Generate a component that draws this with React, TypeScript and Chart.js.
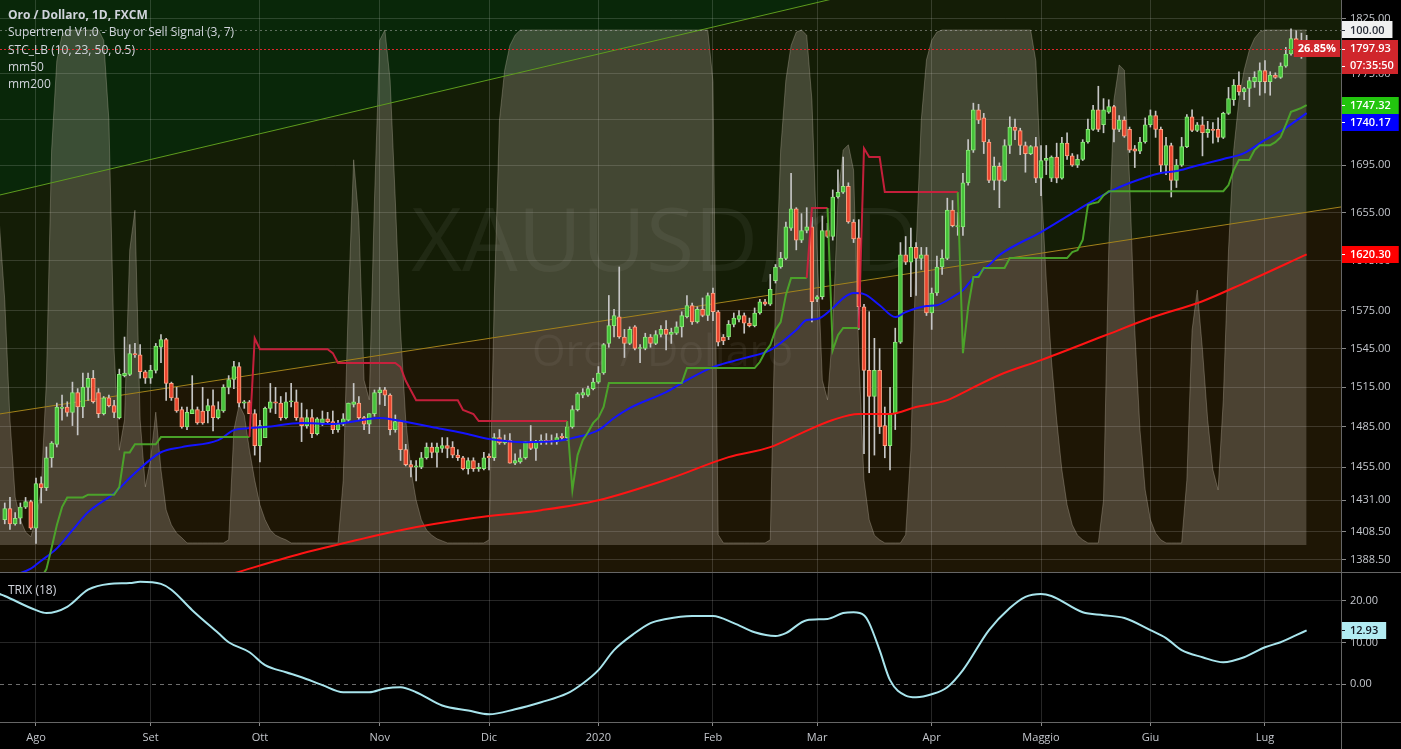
import React, { useEffect, useRef } from "react";
import { Chart, registerables } from "chart.js";

Chart.register(...registerables);

// ---------------- DATA ----------------
// Daily OHLC (open, high, low, close), one row per trading day, index 0 = 24 Jul 2019
const ohlc: number[][] = [
  [1417,1429,1414,1425],[1425,1433,1410,1414],[1414,1422,1413,1418],[1418,1429,1414,1426],[1426,1433,1425,1430],
  [1430,1431,1410,1411],[1411,1447,1400,1443],[1443,1448,1429,1440],[1440,1470,1438,1462],[1462,1474,1455,1473],
  [1472,1503,1470,1500],[1499,1509,1490,1500],[1500,1504,1493,1496],[1496,1519,1486,1511],[1511,1514,1479,1500],
  [1500,1526,1492,1515],[1515,1526,1505,1522],[1522,1528,1503,1504],[1511,1514,1492,1495],[1495,1508,1494,1507],
  [1507,1509,1500,1501],[1501,1505,1492,1496],[1492,1529,1491,1525],[1524,1554,1523,1526],[1525,1548,1524,1541],
  [1541,1549,1538,1540],[1540,1548,1522,1527],[1527,1528,1518,1522],[1522,1532,1518,1528],[1528,1549,1526,1547],
  [1546,1556,1534,1552],[1552,1553,1505,1518],[1518,1519,1505,1507],[1507,1515,1496,1497],[1498,1500,1484,1485],
  [1485,1500,1483,1496],[1495,1524,1495,1498],[1498,1500,1487,1488],[1497,1515,1487,1488],[1497,1506,1488,1501],
  [1501,1513,1482,1492],[1492,1504,1491,1498],[1497,1517,1496,1515],[1515,1524,1510,1521],[1521,1535,1514,1531],
  [1531,1534,1500,1503],[1503,1505,1499,1504],[1504,1505,1495,1495],[1495,1498,1464,1471],[1471,1490,1459,1486],
  [1477,1500,1477,1499],[1499,1518,1496,1504],[1504,1515,1495,1503],[1503,1508,1490,1492],[1492,1511,1491,1504],
  [1504,1518,1500,1504],[1504,1513,1490,1492],[1492,1503,1474,1486],[1486,1498,1484,1492],[1492,1498,1477,1480],
  [1480,1492,1479,1491],[1488,1497,1486,1491],[1491,1496,1488,1489],[1489,1497,1480,1483],[1483,1490,1481,1487],
  [1487,1495,1486,1491],[1490,1503,1489,1503],[1502,1518,1500,1504],[1503,1508,1490,1492],[1492,1493,1483,1487],
  [1487,1495,1480,1495],[1495,1513,1493,1511],[1511,1515,1502,1513],[1513,1515,1501,1509],[1509,1510,1479,1483],
  [1483,1494,1481,1489],[1489,1490,1460,1468],[1468,1472,1456,1457],[1457,1460,1448,1455],[1455,1460,1445,1456],
  [1455,1466,1454,1462],[1462,1473,1461,1470],[1470,1473,1462,1466],[1466,1473,1455,1470],[1469,1477,1466,1471],
  [1471,1477,1462,1469],[1470,1474,1462,1464],[1464,1468,1460,1462],[1462,1463,1453,1454],[1454,1462,1450,1460],
  [1460,1462,1452,1454],[1454,1458,1452,1455],[1454,1466,1453,1462],[1463,1465,1453,1462],[1462,1480,1460,1477],
  [1477,1483,1472,1473],[1473,1479,1472,1475],[1475,1480,1458,1458],[1458,1465,1457,1460],[1459,1468,1458,1462],
  [1462,1474,1461,1474],[1474,1486,1468,1469],[1469,1475,1460,1474],[1474,1479,1472,1475],[1475,1480,1472,1474],
  [1475,1479,1472,1474],[1474,1480,1472,1477],[1478,1480,1475,1477],[1477,1489,1475,1485],[1485,1501,1484,1498],
  [1498,1511,1497,1510],[1509,1514,1507,1511],[1509,1516,1508,1514],[1514,1522,1513,1519],[1519,1531,1518,1526],
  [1526,1549,1525,1548],[1549,1587,1546,1563],[1563,1576,1554,1571],[1570,1610,1553,1554],[1554,1560,1538,1549],
  [1549,1562,1548,1560],[1562,1563,1544,1545],[1545,1548,1534,1545],[1545,1557,1544,1554],[1554,1556,1546,1549],
  [1549,1559,1548,1556],[1556,1563,1554,1560],[1560,1567,1544,1556],[1556,1561,1549,1558],[1557,1566,1556,1562],
  [1562,1574,1554,1571],[1570,1587,1569,1579],[1579,1581,1564,1566],[1566,1578,1565,1576],[1576,1585,1570,1571],
  [1571,1589,1567,1587],[1589,1593,1567,1574],[1574,1575,1547,1550],[1554,1556,1548,1551],[1554,1567,1552,1564],
  [1564,1573,1562,1569],[1568,1575,1566,1571],[1571,1573,1557,1565],[1565,1569,1562,1563],[1563,1577,1562,1573],
  [1573,1584,1572,1582],[1582,1584,1579,1580],[1580,1604,1579,1592],[1599,1612,1597,1610],[1610,1622,1609,1617],
  [1617,1647,1616,1643],[1642,1688,1640,1658],[1658,1659,1624,1632],[1632,1654,1630,1640],[1640,1659,1638,1643],
  [1643,1651,1566,1582],[1584,1587,1582,1586],[1586,1652,1584,1640],[1640,1646,1634,1635],[1635,1674,1632,1668],
  [1668,1691,1667,1672],[1672,1702,1671,1677],[1677,1680,1646,1647],[1647,1649,1630,1633],[1634,1649,1560,1578],
  [1578,1580,1465,1528],[1528,1574,1451,1508],[1508,1553,1464,1528],[1528,1545,1480,1485],[1486,1500,1462,1471],
  [1471,1515,1453,1495],[1495,1561,1483,1550],[1550,1630,1549,1620],[1620,1635,1612,1614],[1614,1642,1586,1626],
  [1626,1630,1587,1617],[1617,1626,1608,1620],[1620,1626,1571,1573],[1573,1593,1560,1589],[1589,1619,1587,1610],
  [1610,1624,1604,1617],[1617,1667,1616,1657],[1657,1665,1643,1644],[1643,1655,1636,1644],[1643,1688,1636,1680],
  [1680,1717,1678,1708],[1708,1749,1706,1743],[1743,1748,1731,1734],[1736,1740,1705,1715],[1715,1717,1680,1682],
  [1682,1702,1674,1694],[1694,1697,1659,1682],[1682,1717,1681,1712],[1712,1737,1705,1728],[1728,1735,1717,1725],
  [1725,1727,1704,1712],[1712,1715,1689,1705],[1705,1712,1704,1711],[1711,1719,1680,1684],[1684,1712,1669,1699],
  [1699,1712,1687,1701],[1684,1703,1681,1702],[1702,1714,1680,1684],[1684,1719,1683,1714],[1714,1723,1700,1703],
  [1703,1705,1694,1695],[1695,1704,1693,1700],[1700,1717,1699,1715],[1715,1735,1714,1726],[1726,1747,1725,1743],
  [1743,1764,1724,1726],[1730,1753,1723,1743],[1741,1752,1740,1746],[1746,1747,1715,1726],[1726,1738,1724,1734],
  [1734,1737,1719,1720],[1726,1728,1706,1708],[1709,1712,1693,1707],[1707,1719,1705,1715],[1715,1736,1714,1730],
  [1730,1743,1728,1738],[1738,1742,1719,1726],[1726,1728,1688,1695],[1695,1719,1687,1712],[1712,1714,1668,1682],
  [1682,1700,1676,1695],[1695,1719,1694,1711],[1711,1739,1710,1737],[1737,1743,1724,1725],[1725,1732,1724,1730],
  [1730,1737,1703,1723],[1723,1733,1719,1726],[1726,1732,1714,1725],[1726,1736,1715,1719],[1719,1741,1718,1740],
  [1740,1763,1739,1753],[1752,1770,1747,1765],[1765,1777,1756,1759],[1759,1763,1752,1762],[1762,1772,1746,1769],
  [1768,1777,1763,1772],[1768,1785,1756,1778],[1778,1787,1758,1768],[1768,1777,1756,1774],[1774,1776,1771,1772],
  [1772,1785,1771,1782],[1782,1799,1781,1793],[1793,1816,1792,1807],[1807,1814,1798,1801],[1801,1812,1789,1799],
  [1799,1810,1792,1797.93],
];

// STC_LB oscillator (0..100), one per bar, starting one bar before the first candle
const stcStartIdx = -1;
const stcValues: number[] = [
  62,
  47.6, 24.3, 9.3, 4.9, 2.5, 1.6, 4.9, 10.7, 32, 76.7,
  94, 99, 100, 100, 100, 100, 100, 100, 100, 98,
  82.5, 37.9, 18.4, 24.3, 57.3, 65, 24.3, 11.3, 16.5, 25.8,
  14.6, 6.8, 3.9, 2.3, 1.4, 0.4, 0.4, 0.4, 0.4, 0.4,
  0.4, 0.4, 0.4, 1, 22.3, 27.2, 25.2, 18.4, 12.6, 7.8,
  4.9, 2.9, 1.9, 1.4, 1, 0.4, 0.4, 0.4, 0.4, 0.4,
  0.4, 0.4, 0.4, 0.4, 0.4, 12.6, 47.6, 74.8, 63.1, 32,
  28.2, 67, 98, 100, 90.3, 67, 41.7, 24.3, 14.6, 8.7,
  4.9, 2.9, 1.9, 1.2, 0.8, 0.4, 0.4, 0.4, 0.4, 0.4,
  0.4, 0.4, 0.4, 1, 47.6, 82.5, 92.2, 97, 99, 100,
  100, 100, 100, 100, 100, 100, 100, 100, 100, 100,
  100, 100, 100, 100, 100, 100, 100, 100, 100, 100,
  100, 100, 100, 100, 100, 100, 100, 100, 100, 100,
  100, 100, 100, 100, 100, 100, 90, 2, 0.4, 0.4,
  0.4, 0.4, 0.4, 0.4, 0.4, 0.4, 0.4, 1, 47.6, 76.7,
  90.3, 97, 99.6, 100, 99, 86.4, 57.3, 32, 28.2, 41.7,
  67, 76.7, 77.7, 72.8, 36.9, 12.6, 4.9, 1.9, 1, 0.4,
  0.4, 0.4, 0.4, 2, 18.4, 57.3, 82.5, 94.2, 98, 99.6,
  100, 100, 100, 100, 100, 100, 100, 100, 100, 100,
  100, 100, 100, 100, 100, 100, 100, 100, 94, 70.9,
  51.5, 35.9, 24.3, 14.6, 7.8, 3.9, 1.9, 1, 0.4, 0.4,
  0.4, 8.7, 57.3, 86.4, 93.2, 92.2, 70.9, 41.7, 22.3, 10.7,
  4.9, 2.3, 1, 0.4, 0.4, 0.4, 0.4, 12.6, 41.7, 49.5,
  37.9, 24.3, 14.6, 10.7, 28.2, 57.3, 76.7, 86.4, 92.2, 96.1,
  98.4, 99.6, 100, 100, 100, 100, 100, 100, 100, 100,
  100,
];

// mm50 [barIndex, value]
const mm50Points: number[][] = [
  [2,1378],[5,1382.3],[7,1387.9],[10,1396.6],[13,1409.5],[16,1422.4],[21,1436.1],[25,1450.8],[30,1466.1],
  [34,1469.9],[41,1475.1],[44,1482.6],[47,1484.1],[50,1484.9],[57,1487.9],[63,1487.2],[72,1491.7],[75,1490.2],
  [82,1484.9],[88,1480.4],[93,1475.9],[100,1473.6],[106,1474.4],[109,1476.6],[114,1482.6],[117,1491.7],
  [120,1499.2],[127,1511.4],[131,1520.6],[136,1530.6],[142,1537.5],[147,1543.7],[152,1559.5],[154,1567.4],
  [156,1568.2],[159,1576.9],[161,1584.8],[163,1588.9],[165,1588.1],[168,1579.2],[171,1569.8],[173,1573.7],
  [177,1578.5],[179,1579.2],[182,1585.7],[184,1591.3],[186,1601.1],[189,1611.6],[191,1619.7],[199,1638.7],
  [206,1657],[212,1672.1],[216,1679.8],[222,1688.4],[225,1690],[228,1693.5],[234,1700.3],[238,1705.4],
  [242,1716.8],[246,1727.3],[250,1740.17],
];

// mm200 [barIndex, value]
const mm200Points: number[][] = [
  [43,1378],[57,1393],[65,1400.2],[76,1409.5],[90,1418.1],[103,1423.8],[114,1431],[128,1447.1],[139,1462.5],
  [147,1469.9],[153,1480.4],[159,1490.2],[164,1494.7],[170,1494.7],[175,1500],[181,1505.2],[185,1512.9],
  [191,1524.5],[199,1536],[211,1554.8],[220,1569],[230,1582.4],[238,1597],[250,1620.3],
];

// Supertrend [barIndex, value, direction (1 = up / buy, -1 = down / sell)]
const supertrendPoints: number[][] = [
  [7,1376,1],[8,1382,1],[9,1397,1],[10,1413,1],[11,1426,1],[12,1433,1],[15,1433,1],[16,1435,1],[21,1435,1],
  [22,1440.5,1],[23,1466,1],[24,1466,1],[25,1472,1],[29,1472,1],[30,1477.4,1],[47,1477.4,1],
  [48,1553,-1],[49,1544.5,-1],[62,1544.5,-1],[63,1541.4,-1],[64,1533.7,-1],[75,1533.7,-1],[76,1530.6,-1],
  [77,1520,-1],[79,1505.2,-1],[87,1505.2,-1],[88,1497.7,-1],[90,1494.7,-1],[91,1489.4,-1],[108,1489.4,-1],
  [109,1438.3,1],[110,1464,1],[111,1475,1],[112,1481,1],[113,1488,1],[114,1492,1],[115,1500,1],[116,1518.3,1],
  [130,1518.3,1],[131,1529.8,1],[144,1529.8,1],[145,1534.5,1],[146,1542.2,1],[147,1547.6,1],[148,1559.5,1],
  [149,1565.8,1],[150,1587.3,1],[151,1601.1,1],[154,1601.1,1],
  [155,1658.7,-1],[158,1658.7,-1],
  [159,1543.7,1],[160,1555.5,1],[161,1561.1,1],[164,1561.1,1],
  [165,1709.5,-1],[166,1702,-1],[168,1702,-1],[169,1672.1,-1],[183,1672.1,-1],
  [184,1541.4,1],[185,1577.7,1],[186,1601.9,1],[187,1601.9,1],[188,1609.2,1],[192,1609.2,1],[193,1617.3,1],
  [204,1617.3,1],[205,1622.2,1],[206,1623.8,1],[207,1632.1,1],[208,1661.1,1],[209,1662.8,1],[210,1663.6,1],
  [211,1669.3,1],[212,1672.9,1],[234,1672.9,1],[235,1678.1,1],[236,1690.9,1],[237,1699.5,1],[239,1699.5,1],
  [240,1708,1],[241,1712.2,1],[243,1712.2,1],[244,1714.8,1],[245,1719.1,1],[246,1729.9,1],[247,1741.3,1],
  [248,1743,1],[249,1744.8,1],[250,1747.32,1],
];

// TRIX (18) [barIndex, value]
const trixPoints: number[][] = [
  [-1,21.7],[0,21.2],[6,17.8],[8,17.1],[12,18.6],[16,22.7],[20,24.1],[24,24.3],[26,24.6],[30,24.1],[32,22.7],[36,17.8],
  [41,12.3],[43,10.1],[47,7.7],[50,4.6],[54,2.9],[57,1.7],[61,-0.2],[65,-1.9],[70,-1.9],[73,-1.0],[76,-0.7],
  [79,-1.9],[84,-5.1],[89,-6.3],[93,-7.2],[98,-6.0],[103,-4.3],[108,-2.2],[111,0.2],[114,3.4],[117,8.2],
  [121,12.3],[124,14.7],[127,15.7],[132,16.4],[136,16.4],[140,14.7],[144,12.5],[148,11.6],[150,12.3],
  [154,15.4],[158,15.7],[161,17.1],[163,17.3],[165,16.6],[166,14.7],[168,8.2],[170,1.0],[173,-2.7],
  [175,-3.1],[178,-2.4],[181,-0.7],[184,3.4],[189,13.0],[193,18.3],[196,21.0],[199,21.7],[201,21.2],
  [207,17.3],[211,16.6],[215,15.9],[220,13.0],[223,11.1],[226,8.2],[230,6.5],[234,5.3],[238,6.5],
  [242,8.9],[245,10.1],[248,11.8],[250,12.93],
];

// Channel drawings [barIndex, price]
const upperChannel: number[][] = [[-0.912, 1669.7], [256.6, 1958.6]];
const lowerChannel: number[][] = [[-0.912, 1494.8], [256.6, 1659.6]];

// Axis ticks
const monthTickIdx = [6, 28, 49, 72, 93, 114, 136, 156, 178, 199, 220, 242];
const monthTickLabels = ["Ago", "Set", "Ott", "Nov", "Dic", "2020", "Feb", "Mar", "Apr", "Maggio", "Giu", "Lug"];
const priceTicks = [1825, 1775, 1735, 1695, 1655, 1615, 1575, 1545, 1515, 1485, 1455, 1431, 1408.5, 1388.5];
const trixTicks = [20, 10, 0];

const legendLines = [
  "Oro / Dollaro, 1D, FXCM",
  "Supertrend V1.0 - Buy or Sell Signal (3, 7)",
  "STC_LB (10, 23, 50, 0.5)",
  "mm50",
  "mm200",
];
const changeText = "26.85%";
const countdownText = "07:35:50";

// ---------------- STYLE ----------------
const FONT = "'Open Sans', 'Liberation Sans', sans-serif";
const GRID = "rgba(255,255,255,0.15)";
const AXIS_TEXT = "#c3c6cc";
const BG_TOP = "#092709";
const BG_MID = "#141d06";
const BG_LOW = "#1e1605";
const X_MIN = -0.912;
const X_MAX = 256.6;
const PRICE_MIN = 1380.0;
const PRICE_MAX = 1842.6;
const STC_MIN = -5.243;
const STC_MAX = 105.825;
const TRIX_MIN = -9.05;
const TRIX_MAX = 26.72;
const AXIS_W = 60;

function drawBox(ctx: any, x: number, yc: number, text: string, bg: string, fg: string, bold = false, w?: number) {
  ctx.save();
  ctx.font = `${bold ? "bold " : "600 "}11px ${FONT}`;
  const tw = ctx.measureText(text).width;
  const bw = w || tw + 17;
  ctx.fillStyle = bg;
  ctx.fillRect(x, Math.round(yc - 8.5), bw, 17);
  ctx.strokeStyle = fg;
  ctx.lineWidth = 1;
  ctx.beginPath();
  ctx.moveTo(x, Math.round(yc) + 0.5);
  ctx.lineTo(x + 4, Math.round(yc) + 0.5);
  ctx.stroke();
  ctx.fillStyle = fg;
  ctx.textBaseline = "middle";
  ctx.textAlign = "left";
  ctx.fillText(text, x + 9, yc + 0.5);
  ctx.restore();
}

export default function App() {
  const mainRef = useRef<HTMLCanvasElement>(null);
  const trixRef = useRef<HTMLCanvasElement>(null);

  useEffect(() => {
    document.body.style.margin = "0";
    document.body.style.background = "#000";

    const up = ohlc.map((c) => c[3] >= c[0]);
    const last = ohlc[ohlc.length - 1];
    const lastStc = stcValues[stcValues.length - 1];

    const mainPlugin = {
      id: "mainDeco",
      beforeDraw(chart: any) {
        const { ctx, chartArea: a, scales } = chart;
        const px = (p: number[]) => [scales.x.getPixelForValue(p[0]), scales.y.getPixelForValue(p[1])];
        ctx.save();
        ctx.fillStyle = BG_MID;
        ctx.fillRect(a.left, a.top, a.width, a.height);
        ctx.beginPath();
        ctx.rect(a.left, a.top, a.width, a.height);
        ctx.clip();
        const u0 = px(upperChannel[0]);
        const u1 = px(upperChannel[1]);
        ctx.fillStyle = BG_TOP;
        ctx.beginPath();
        ctx.moveTo(u0[0], u0[1]);
        ctx.lineTo(u1[0], u1[1]);
        ctx.lineTo(u1[0], a.top - 5000);
        ctx.lineTo(u0[0], a.top - 5000);
        ctx.closePath();
        ctx.fill();
        const l0 = px(lowerChannel[0]);
        const l1 = px(lowerChannel[1]);
        ctx.fillStyle = BG_LOW;
        ctx.beginPath();
        ctx.moveTo(l0[0], l0[1]);
        ctx.lineTo(l1[0], l1[1]);
        ctx.lineTo(l1[0], a.bottom + 5000);
        ctx.lineTo(l0[0], a.bottom + 5000);
        ctx.closePath();
        ctx.fill();
        ctx.restore();
      },
      beforeDatasetsDraw(chart: any) {
        const { ctx, chartArea: a } = chart;
        const cx = (a.left + a.right) / 2;
        ctx.save();
        ctx.fillStyle = "rgba(255,255,255,0.055)";
        ctx.textAlign = "center";
        ctx.textBaseline = "alphabetic";
        ctx.font = `88px ${FONT}`;
        ctx.fillText("XAUUSD, 1D", cx - 6, 271);
        ctx.font = `43px ${FONT}`;
        ctx.fillText("Oro / Dollaro", cx - 8, 366);
        ctx.restore();
      },
      afterDatasetsDraw(chart: any) {
        const { ctx, chartArea: a, scales } = chart;
        ctx.save();
        const yc = Math.round(scales.y.getPixelForValue(last[3])) + 0.5;
        ctx.strokeStyle = "#e0262b";
        ctx.setLineDash([2, 2]);
        ctx.lineWidth = 1;
        ctx.beginPath();
        ctx.moveTo(a.left, yc);
        ctx.lineTo(a.right, yc);
        ctx.stroke();
        const ys = Math.round(scales.yStc.getPixelForValue(lastStc)) + 0.5;
        ctx.strokeStyle = "rgba(200,200,200,0.45)";
        ctx.setLineDash([2, 3]);
        ctx.beginPath();
        ctx.moveTo(a.left, ys);
        ctx.lineTo(a.right, ys);
        ctx.stroke();
        ctx.restore();
      },
      afterDraw(chart: any) {
        const { ctx, chartArea: a, scales } = chart;
        const stLast = supertrendPoints[supertrendPoints.length - 1][1];
        const m50Last = mm50Points[mm50Points.length - 1][1];
        const m200Last = mm200Points[mm200Points.length - 1][1];
        const labels: any[] = [
          { y: scales.yStc.getPixelForValue(lastStc), t: lastStc.toFixed(2), bg: "#f0f0f0", fg: "#2a2e39" },
          { y: scales.y.getPixelForValue(last[3]), t: last[3].toFixed(2), bg: "#d0262c", fg: "#ffffff", w: 57 },
          { y: scales.y.getPixelForValue(last[3]), t: countdownText, bg: "#d0262c", fg: "#ffffff", w: 57 },
          { y: scales.y.getPixelForValue(stLast), t: stLast.toFixed(2), bg: "#22c50e", fg: "#ffffff" },
          { y: scales.y.getPixelForValue(m50Last), t: m50Last.toFixed(2), bg: "#0000ff", fg: "#ffffff" },
          { y: scales.y.getPixelForValue(m200Last), t: m200Last.toFixed(2), bg: "#ff0000", fg: "#ffffff" },
        ];
        const sorted = labels.slice().sort((p, q) => p.y - q.y);
        for (let i = 1; i < sorted.length; i++) {
          if (sorted[i].y - sorted[i - 1].y < 17) sorted[i].y = sorted[i - 1].y + 17;
        }
        for (const l of labels) drawBox(ctx, a.right, l.y, l.t, l.bg, l.fg, false, l.w);
        // percent change tag inside the pane
        const yc = scales.y.getPixelForValue(last[3]);
        ctx.save();
        ctx.font = `bold 11px ${FONT}`;
        const tw = ctx.measureText(changeText).width;
        const bw = tw + 8;
        ctx.fillStyle = "#d0262c";
        ctx.fillRect(a.right - 1 - bw, Math.round(yc - 8.5), bw, 17);
        ctx.fillStyle = "#ffffff";
        ctx.textBaseline = "middle";
        ctx.textAlign = "left";
        ctx.fillText(changeText, a.right - 1 - bw + 4, yc + 0.5);
        ctx.restore();
      },
    };

    const mainChart = new Chart(mainRef.current as HTMLCanvasElement, {
      type: "bar",
      data: {
        datasets: [
          {
            type: "line",
            yAxisID: "yStc",
            data: stcValues.map((v, i) => ({ x: i + stcStartIdx, y: v })),
            fill: "origin",
            backgroundColor: "rgba(206,194,180,0.26)",
            borderColor: "rgba(206,194,180,0.30)",
            borderWidth: 1,
            pointRadius: 0,
            tension: 0,
            order: 20,
          },
          {
            type: "line",
            yAxisID: "y",
            data: upperChannel.map((p) => ({ x: p[0], y: p[1] })),
            borderColor: "#5e9c1e",
            borderWidth: 1,
            pointRadius: 0,
            fill: false,
            order: 19,
          },
          {
            type: "line",
            yAxisID: "y",
            data: lowerChannel.map((p) => ({ x: p[0], y: p[1] })),
            borderColor: "#a3821b",
            borderWidth: 1,
            pointRadius: 0,
            fill: false,
            order: 18,
          },
          {
            type: "bar",
            yAxisID: "y",
            data: ohlc.map((c, i) => ({ x: i, y: [c[2], c[1]] })),
            backgroundColor: "#c6c6c6",
            barThickness: 1,
            grouped: false,
            order: 12,
          },
          {
            type: "bar",
            yAxisID: "y",
            data: ohlc.map((c, i) => ({ x: i, y: [c[0], c[3]] })),
            backgroundColor: up.map((u) => (u ? "#46c23a" : "#e9452e")),
            borderColor: up.map((u) => (u ? "#8be879" : "#ffa484")),
            borderWidth: 1,
            borderSkipped: false,
            barThickness: 4,
            minBarLength: 1,
            grouped: false,
            order: 11,
          },
          {
            type: "line",
            yAxisID: "y",
            data: mm200Points.map((p) => ({ x: p[0], y: p[1] })),
            borderColor: "#ff1414",
            borderWidth: 2,
            pointRadius: 0,
            cubicInterpolationMode: "monotone",
            fill: false,
            order: 3,
          },
          {
            type: "line",
            yAxisID: "y",
            data: mm50Points.map((p) => ({ x: p[0], y: p[1] })),
            borderColor: "#1414ff",
            borderWidth: 2,
            pointRadius: 0,
            cubicInterpolationMode: "monotone",
            fill: false,
            order: 2,
          },
          {
            type: "line",
            yAxisID: "y",
            data: supertrendPoints.map((p) => ({ x: p[0], y: p[1] })),
            borderColor: "#4ba52a",
            borderWidth: 2,
            pointRadius: 0,
            tension: 0,
            fill: false,
            segment: {
              borderColor: (c: any) => (supertrendPoints[c.p1DataIndex][2] > 0 ? "rgba(76,168,42,0.95)" : "rgba(205,32,62,0.95)"),
            },
            order: 1,
          },
        ] as any,
      },
      options: {
        responsive: false,
        animation: false,
        devicePixelRatio: 1,
        events: [],
        layout: { padding: 0, autoPadding: false } as any,
        plugins: { legend: { display: false }, tooltip: { enabled: false } },
        scales: {
          x: {
            type: "linear",
            min: X_MIN,
            max: X_MAX,
            offset: false,
            afterBuildTicks: (s: any) => {
              s.ticks = monthTickIdx.map((v) => ({ value: v }));
            },
            afterFit: (s: any) => {
              s.height = 0;
              s.paddingLeft = 0;
              s.paddingRight = 0;
            },
            ticks: { display: false },
            grid: { color: GRID, drawTicks: false, offset: false },
            border: { display: false },
          },
          y: {
            type: "logarithmic",
            position: "right",
            min: PRICE_MIN,
            max: PRICE_MAX,
            afterBuildTicks: (s: any) => {
              s.ticks = priceTicks.map((v) => ({ value: v }));
            },
            afterFit: (s: any) => {
              s.width = AXIS_W;
              s.paddingTop = 0;
              s.paddingBottom = 0;
            },
            ticks: {
              color: AXIS_TEXT,
              font: { family: FONT, size: 11 },
              padding: 4,
              autoSkip: false,
              callback: (v: any) => Number(v).toFixed(2),
            },
            grid: { color: GRID, tickLength: 5, tickColor: "#8a8a8a" },
            border: { display: false },
          },
          yStc: {
            type: "linear",
            display: false,
            min: STC_MIN,
            max: STC_MAX,
          },
        },
      } as any,
      plugins: [mainPlugin],
    });

    const trixPlugin = {
      id: "trixDeco",
      beforeDatasetsDraw(chart: any) {
        const { ctx, chartArea: a, scales } = chart;
        const y0 = Math.round(scales.y.getPixelForValue(0)) + 0.5;
        ctx.save();
        ctx.strokeStyle = "rgba(200,200,200,0.55)";
        ctx.setLineDash([4, 4]);
        ctx.lineWidth = 1;
        ctx.beginPath();
        ctx.moveTo(a.left, y0);
        ctx.lineTo(a.right, y0);
        ctx.stroke();
        ctx.restore();
      },
      afterDraw(chart: any) {
        const { ctx, chartArea: a, scales } = chart;
        const v = trixPoints[trixPoints.length - 1][1];
        drawBox(ctx, a.right, scales.y.getPixelForValue(v), v.toFixed(2), "#b2ebf2", "#131722");
      },
    };

    const trixChart = new Chart(trixRef.current as HTMLCanvasElement, {
      type: "line",
      data: {
        datasets: [
          {
            data: trixPoints.map((p) => ({ x: p[0], y: p[1] })),
            borderColor: "#a8e4ec",
            borderWidth: 2,
            pointRadius: 0,
            cubicInterpolationMode: "monotone",
            fill: false,
          },
        ],
      },
      options: {
        responsive: false,
        animation: false,
        devicePixelRatio: 1,
        events: [],
        layout: { padding: 0, autoPadding: false } as any,
        plugins: { legend: { display: false }, tooltip: { enabled: false } },
        scales: {
          x: {
            type: "linear",
            min: X_MIN,
            max: X_MAX,
            afterBuildTicks: (s: any) => {
              s.ticks = monthTickIdx.map((v) => ({ value: v }));
            },
            afterFit: (s: any) => {
              s.height = 27;
              s.paddingLeft = 0;
              s.paddingRight = 0;
            },
            ticks: {
              color: AXIS_TEXT,
              font: { family: FONT, size: 11 },
              padding: 5,
              autoSkip: false,
              maxRotation: 0,
              callback: (v: any) => monthTickLabels[monthTickIdx.indexOf(Number(v))] || "",
            },
            grid: { color: GRID, tickLength: 4, tickColor: "#8a8a8a" },
            border: { display: false },
          },
          y: {
            type: "linear",
            position: "right",
            min: TRIX_MIN,
            max: TRIX_MAX,
            afterBuildTicks: (s: any) => {
              s.ticks = trixTicks.map((v) => ({ value: v }));
            },
            afterFit: (s: any) => {
              s.width = AXIS_W;
              s.paddingTop = 0;
              s.paddingBottom = 0;
            },
            ticks: {
              color: AXIS_TEXT,
              font: { family: FONT, size: 11 },
              padding: 4,
              autoSkip: false,
              callback: (v: any) => Number(v).toFixed(2),
            },
            grid: {
              color: (c: any) => (c.tick && c.tick.value === 0 ? "rgba(0,0,0,0)" : GRID),
              tickLength: 5,
              tickColor: "#8a8a8a",
            },
            border: { display: false },
          },
        },
      } as any,
      plugins: [trixPlugin],
    });

    return () => {
      mainChart.destroy();
      trixChart.destroy();
    };
  }, []);

  const line = "#666666";
  return (
    <div style={{ position: "relative", width: 1401, height: 749, background: "#000", overflow: "hidden", fontFamily: FONT }}>
      <canvas ref={mainRef} width={1401} height={572} style={{ position: "absolute", left: 0, top: 0, width: 1401, height: 572 }} />
      <canvas ref={trixRef} width={1401} height={176} style={{ position: "absolute", left: 0, top: 573, width: 1401, height: 176 }} />
      <div style={{ position: "absolute", left: 0, top: 572, width: 1401, height: 1, background: line }} />
      <div style={{ position: "absolute", left: 0, top: 722, width: 1401, height: 1, background: line }} />
      <div style={{ position: "absolute", left: 1341, top: 0, width: 1, height: 749, background: line }} />
      <div style={{ position: "absolute", left: 8, top: 6, color: "#d1d4dc", fontSize: 12, lineHeight: "17.3px", pointerEvents: "none", whiteSpace: "nowrap" }}>
        {legendLines.map((t, i) => (
          <div key={i} style={{ fontWeight: i === 0 ? 700 : 400 }}>{t}</div>
        ))}
      </div>
      <div style={{ position: "absolute", left: 8, top: 581, color: "#d1d4dc", fontSize: 12, lineHeight: "17px", pointerEvents: "none" }}>TRIX (18)</div>
    </div>
  );
}
